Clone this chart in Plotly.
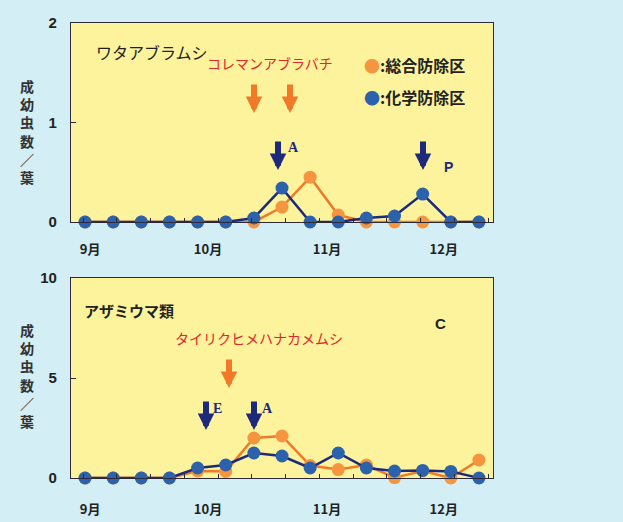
import plotly.graph_objects as go

# ---------------- data ----------------
idx = list(range(15))                      # weekly survey dates (index)
month_labels = ["9月", "10月", "11月", "12月"]
month_pos = [0.18, 4.37, 8.6, 12.75]

aphid_ipm = [0, 0, 0, 0, 0, 0, 0, 0.15, 0.45, 0.07, 0, 0, 0, 0, 0]
aphid_chem = [0, 0, 0, 0, 0, 0, 0.04, 0.34, 0, 0, 0.04, 0.06, 0.28, 0, 0]
thrips_ipm = [0, 0, 0, 0, 0.35, 0.33, 2.0, 2.1, 0.62, 0.42, 0.65, 0.02, 0.35, 0, 0.9]
thrips_chem = [0, 0, 0, 0, 0.5, 0.65, 1.25, 1.1, 0.5, 1.25, 0.5, 0.35, 0.38, 0.33, 0]

top_yticks = [0, 1, 2]
bot_yticks = [0, 5, 10]

# ---------------- style ----------------
W, H = 623, 522
BG = "#d3eef4"
PLOT_BG = "#fcf39c"
ORANGE_M = "#f5953f"
ORANGE_L = "#f07a28"
BLUE_M = "#2c62ab"
BLUE_L = "#1d2a7c"
RED = "#e3262a"
JP = "Noto Sans CJK JP"


def P(x, y):
    return x / W, 1 - y / H


fig = go.Figure()


def add_series(xa, ya, ipm, chem):
    fig.add_trace(go.Scatter(x=idx, y=ipm, xaxis=xa, yaxis=ya, mode="lines+markers",
                             line=dict(color=ORANGE_L, width=2.5),
                             marker=dict(color=ORANGE_M, size=13, line=dict(width=0)),
                             showlegend=False, cliponaxis=False))
    fig.add_trace(go.Scatter(x=idx, y=chem, xaxis=xa, yaxis=ya, mode="lines+markers",
                             line=dict(color=BLUE_L, width=2.5),
                             marker=dict(color=BLUE_M, size=13, line=dict(width=0)),
                             showlegend=False, cliponaxis=False))


add_series("x", "y", aphid_ipm, aphid_chem)
add_series("x2", "y2", thrips_ipm, thrips_chem)

xd = [71 / W, 493 / W]


def xaxis_cfg(standoff):
    return dict(range=[-0.5, 14.5], showgrid=False, zeroline=False, automargin=False,
                showline=True, linecolor="#2a2a3a", linewidth=1.2, mirror=True,
                tickmode="array", tickvals=month_pos,
                ticktext=[f"<b>{m}</b>" for m in month_labels],
                ticks="", ticklabelstandoff=standoff,
                tickfont=dict(family=JP, size=13, color="#222"),
                minor=dict(ticks="inside", ticklen=4, tickcolor="#2a2a3a",
                           tickmode="linear", tick0=-0.07, dtick=1.2))


ycommon = dict(showgrid=False, zeroline=False, showline=True, linecolor="#2a2a3a",
               linewidth=1.2, mirror=True, ticks="inside", ticklen=5, automargin=False,
               tickcolor="#2a2a3a", ticklabelstandoff=10,
               tickfont=dict(family="Liberation Sans", size=15, color="#222"))

fig.update_layout(
    width=W, height=H, margin=dict(l=0, r=0, t=0, b=0, pad=0), autosize=False,
    paper_bgcolor=BG, plot_bgcolor=PLOT_BG,
    xaxis=dict(domain=xd, anchor="y", **xaxis_cfg(15)),
    yaxis=dict(domain=[1 - 222 / H, 1 - 22.7 / H], anchor="x", range=[0, 2],
               tickvals=top_yticks, ticktext=[f"<b>{v}</b>" for v in top_yticks], **ycommon),
    xaxis2=dict(domain=xd, anchor="y2", **xaxis_cfg(19)),
    yaxis2=dict(domain=[1 - 478 / H, 1 - 278 / H], anchor="x2", range=[0, 10],
                tickvals=bot_yticks, ticktext=[f"<b>{v}</b>" for v in bot_yticks], **ycommon),
)

ann = []


def text(x, y, s, size=14, color="#222", family=JP, xanchor="center"):
    px, py = P(x, y)
    ann.append(dict(x=px, y=py, xref="paper", yref="paper", text=s, showarrow=False,
                    font=dict(family=family, size=size, color=color),
                    xanchor=xanchor, yanchor="middle"))


def arrow(x, ytip, length, color, width=6):
    px, py = P(x, ytip)
    ann.append(dict(x=px, y=py, xref="paper", yref="paper", text="", showarrow=True,
                    ax=0, ay=-length, arrowhead=2, arrowsize=0.55, arrowwidth=width,
                    arrowcolor=color))


ytitle = "<b>" + "<br>".join(list("成幼虫数／葉")) + "</b>"
text(27, 131, ytitle, size=14, color="#333")
text(27, 375, ytitle, size=14, color="#333")

# top panel
text(94, 52, "ワタアブラムシ", size=16, xanchor="left")
text(270, 63, "コレマンアブラバチ", size=14, color=RED)
arrow(254, 113, 30, ORANGE_L)
arrow(290, 113, 30, ORANGE_L)
arrow(278, 170, 30, BLUE_L)
text(293, 148, "<b>A</b>", size=14, color=BLUE_L, family="Liberation Serif", xanchor="center")
arrow(423, 170, 30, BLUE_L)
text(448, 167, "<b>P</b>", size=14, color=BLUE_L, family="Liberation Sans")
text(362, 65, f'<span style="color:{ORANGE_M}">●</span><b>:総合防除区</b>', size=16, xanchor="left")
text(362, 97, f'<span style="color:{BLUE_M}">●</span><b>:化学防除区</b>', size=16, xanchor="left")

# bottom panel
text(82, 310, "<b>アザミウマ類</b>", size=15, xanchor="left")
text(440, 323, "<b>C</b>", size=15, family="Liberation Sans")
text(259, 338, "タイリクヒメハナカメムシ", size=14, color=RED)
arrow(229, 388, 30, ORANGE_L)
arrow(206, 430, 30, BLUE_L)
text(217, 408, "<b>E</b>", size=14, color=BLUE_L, family="Liberation Serif")
arrow(254, 430, 30, BLUE_L)
text(267, 408, "<b>A</b>", size=14, color=BLUE_L, family="Liberation Serif")

fig.update_layout(annotations=ann)
fig.write_html("out.html", config={"displayModeBar": False},
               post_script="document.body.style.margin='0';document.body.style.overflow='hidden';")
